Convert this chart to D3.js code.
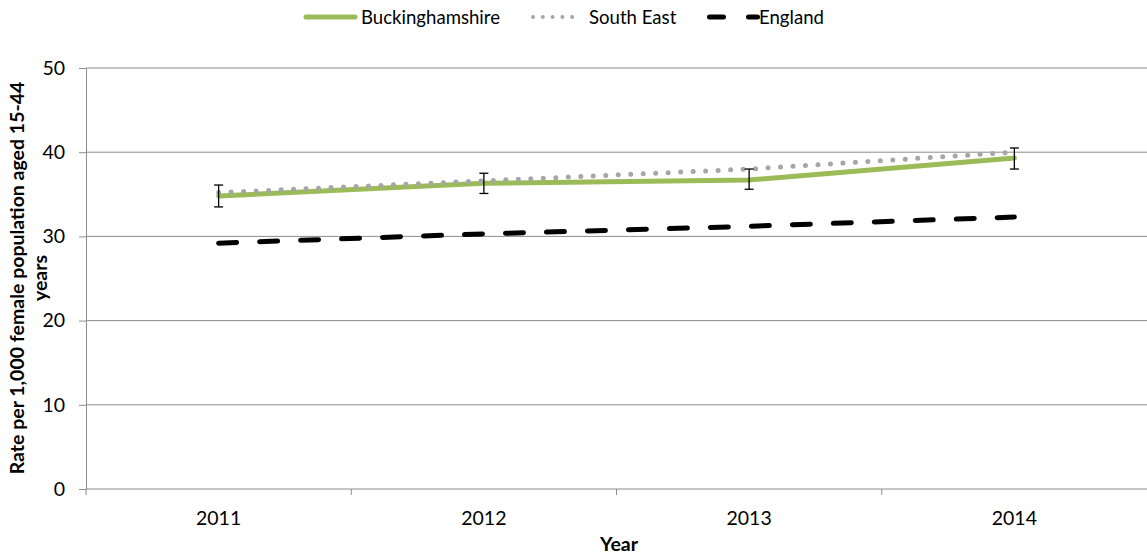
<!DOCTYPE html>
<html><head><meta charset="utf-8">
<script src="https://cdn.jsdelivr.net/npm/d3@7"></script>
<style>body{margin:0;background:#fff}svg{display:block}text{font-family:Lato,"Open Sans",sans-serif}</style>
</head><body>
<svg id="c" width="1147" height="555"></svg>
<script>
const years = ["2011","2012","2013","2014"];
const bucks = [34.8, 36.3, 36.7, 39.3];
const bucksLow = [33.5, 35.1, 35.6, 38.0];
const bucksHigh = [36.1, 37.5, 38.0, 40.5];
const southEast = [35.2, 36.6, 38.0, 40.0];
const england = [29.2, 30.3, 31.2, 32.3];
const yTicks = [0,10,20,30,40,50];

const FS = 19.5;
const LFS = 18.6;
const svg = d3.select("#c");
const m = {l:86, r:1147, t:68, b:489};
const x = d3.scaleBand().domain(years).range([m.l, m.r]);
const y = d3.scaleLinear().domain([0,50]).range([m.b, m.t]);
const cx = d => x(d) + x.bandwidth()/2;
const font = "Lato, 'Open Sans', sans-serif";

// gridlines
svg.append("g").selectAll("line").data(yTicks.filter(v=>v>0)).join("line")
  .attr("x1", m.l).attr("x2", m.r).attr("y1", d=>y(d)).attr("y2", d=>y(d))
  .attr("stroke", "#8c8c8c").attr("stroke-width", 1);

// y axis
const ya = svg.append("g").attr("transform",`translate(${m.l},0)`)
  .call(d3.axisLeft(y).tickValues(yTicks).tickSize(7).tickPadding(14));
ya.select(".domain").attr("stroke","#8c8c8c");
ya.selectAll(".tick line").attr("stroke","#8c8c8c");
ya.selectAll("text").attr("font-size",FS).attr("fill","#000").style("font-family",font);

// x axis
const xa = svg.append("g").attr("transform",`translate(0,${m.b})`)
  .call(d3.axisBottom(x).tickSize(0).tickPadding(22));
xa.select(".domain").attr("stroke","#8c8c8c").attr("d", `M${m.l},0H${m.r}`);
xa.selectAll("text").attr("font-size",FS).attr("fill","#000").style("font-family",font);
// band boundary ticks
svg.append("g").selectAll("line").data(years).join("line")
  .attr("x1", d=>x(d)).attr("x2", d=>x(d)).attr("y1", m.b).attr("y2", m.b+6)
  .attr("stroke","#8c8c8c");

const line = d3.line().x((d,i)=>cx(years[i])).y(d=>y(d));

// England
svg.append("path").datum(england).attr("d", line).attr("fill","none")
  .attr("stroke","#000").attr("stroke-width",5).attr("stroke-linecap","round")
  .attr("stroke-dasharray","18 23");
// Buckinghamshire
svg.append("path").datum(bucks).attr("d", line).attr("fill","none")
  .attr("stroke","#9bbb59").attr("stroke-width",5).attr("stroke-linecap","round");
// South East
svg.append("path").datum(southEast).attr("d", line).attr("fill","none")
  .attr("stroke","#a6a6a6").attr("stroke-width",5).attr("stroke-linecap","round")
  .attr("stroke-dasharray","0 12.5");

// error bars
const eb = svg.append("g").attr("stroke","#000").attr("stroke-width",1.3);
years.forEach((yr,i)=>{
  const X = cx(yr);
  eb.append("line").attr("x1",X).attr("x2",X).attr("y1",y(bucksLow[i])).attr("y2",y(bucksHigh[i]));
  eb.append("line").attr("x1",X-4.5).attr("x2",X+4.5).attr("y1",y(bucksLow[i])).attr("y2",y(bucksLow[i]));
  eb.append("line").attr("x1",X-4.5).attr("x2",X+4.5).attr("y1",y(bucksHigh[i])).attr("y2",y(bucksHigh[i]));
});

// axis titles
const yt = svg.append("text").attr("transform","translate(24,278) rotate(-90)")
  .attr("text-anchor","middle").attr("font-weight","bold").attr("font-size",FS);
yt.append("tspan").attr("x",0).attr("dy",0).text("Rate per 1,000 female population aged 15-44");
yt.append("tspan").attr("x",0).attr("dy",23).text("years");
svg.append("text").attr("x",619).attr("y",551).attr("text-anchor","middle")
  .attr("font-weight","bold").attr("font-size",FS).text("Year");

// legend
const lg = svg.append("g");
const ly = 17;
lg.append("line").attr("x1",306).attr("x2",355).attr("y1",ly).attr("y2",ly)
  .attr("stroke","#9bbb59").attr("stroke-width",5).attr("stroke-linecap","round");
lg.append("text").attr("x",361).attr("y",ly+7).attr("font-size",LFS).text("Buckinghamshire");
lg.append("line").attr("x1",533).attr("x2",582).attr("y1",ly).attr("y2",ly)
  .attr("stroke","#a6a6a6").attr("stroke-width",4).attr("stroke-linecap","round").attr("stroke-dasharray","0 9.8");
lg.append("text").attr("x",589).attr("y",ly+7).attr("font-size",LFS).text("South East");
lg.append("line").attr("x1",709.5).attr("x2",757.5).attr("y1",ly).attr("y2",ly)
  .attr("stroke","#000").attr("stroke-width",5).attr("stroke-linecap","round").attr("stroke-dasharray","14 25");
lg.append("text").attr("x",759).attr("y",ly+7).attr("font-size",LFS).text("England");
</script>
</body></html>
